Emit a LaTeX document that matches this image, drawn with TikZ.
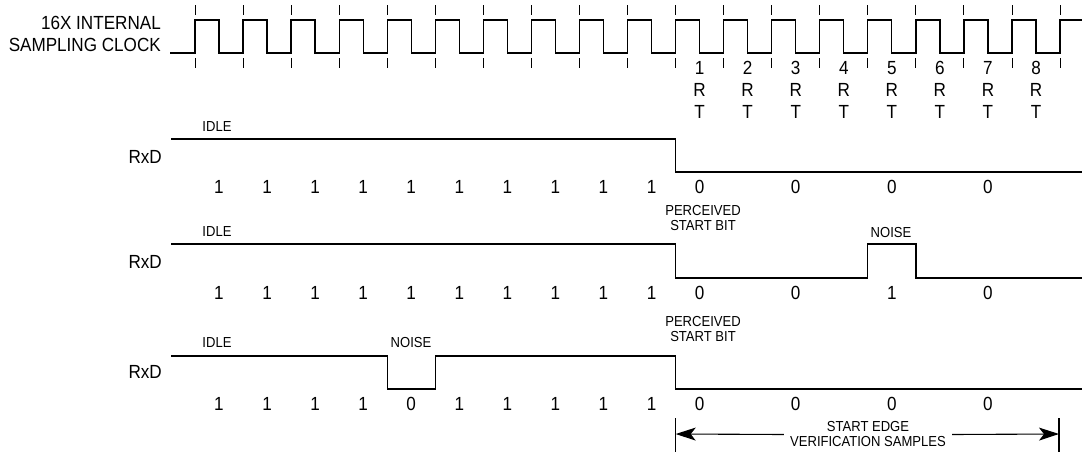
\documentclass[tikz,border=0pt]{standalone}
\usepackage{fontspec}
\setmainfont[FakeStretch=0.9]{Liberation Sans}
\usetikzlibrary{arrows.meta}
\tikzset{
  big/.style={font=\fontsize{19}{22}\selectfont, inner sep=0pt},
  small/.style={font=\fontsize{14.5}{15}\selectfont, inner sep=0pt, align=center},
  wave/.style={line width=1.3pt, line join=miter},
  clocktick/.style={line width=1pt},
  dimline/.style={line width=1.1pt},
  dimarrow/.style={line width=1.1pt, -{Stealth[length=20pt,width=13pt,inset=5pt]}},
}
\begin{document}
\begin{tikzpicture}[x=1pt,y=-1pt]
\useasboundingbox (0,0) rectangle (1082,455);
% clock label
\node[big, anchor=east] (clkA) at (161,23) {16X INTERNAL};
\node[big, anchor=east] (clkB) at (161,45) {SAMPLING CLOCK};
% clock waveform
\draw[wave] (170,53) foreach \k in {0,...,17} {
  -- ({195+48.06*\k},53) -- ({195+48.06*\k},20) -- ({219+48.06*\k},20) -- ({219+48.06*\k},53) }
  -- (1060,53) -- (1060,20) -- (1082,20);
% clock ticks
\foreach \k in {0,...,18} {
  \draw[clocktick] ({195+48.06*\k},5) -- ++(0,10);
  \draw[clocktick] ({195+48.06*\k},58) -- ++(0,10);
}
% RT labels
\foreach \i in {1,...,8} {
  \node[big, align=center] (rt\i) at ({219+48.06*(9+\i)},90) {\i\\R\\T};
}
% ---- row 1 ----
\node[big, anchor=east] (rxdA) at (162,157) {RxD};
\node[small] (idleA) at (217,127) {IDLE};
\draw[wave] (171,139) -- (675.7,139) -- (675.7,172) -- (1082,172);
\foreach \k in {0,...,9} { \node[big] (bA\k) at ({219+48.06*\k},187) {1}; }
\foreach \k in {10,12,14,16} { \node[big] (bA\k) at ({219+48.06*\k},187) {0}; }
% ---- row 2 ----
\node[big, anchor=east] (rxdB) at (162,262) {RxD};
\node[small] (idleB) at (217,232) {IDLE};
\node[small] (percB) at (703,218.5) {PERCEIVED\\START BIT};
\node[small] (noiseB) at (891,233) {NOISE};
\draw[wave] (171,244) -- (675.7,244) -- (675.7,278) -- (867.8,278) -- (867.8,244)
  -- (915.9,244) -- (915.9,278) -- (1082,278);
\foreach \k in {0,...,9} { \node[big] (bB\k) at ({219+48.06*\k},293) {1}; }
\foreach \k/\v in {10/0,12/0,14/1,16/0} { \node[big] (bB\k) at ({219+48.06*\k},293) {\v}; }
% ---- row 3 ----
\node[big, anchor=east] (rxdC) at (162,372) {RxD};
\node[small] (idleC) at (217,343) {IDLE};
\node[small] (percC) at (703,329.5) {PERCEIVED\\START BIT};
\node[small] (noiseC) at (411,343) {NOISE};
\draw[wave] (171,356) -- (387.2,356) -- (387.2,389) -- (435.3,389) -- (435.3,356)
  -- (675.7,356) -- (675.7,389) -- (1082,389);
\foreach \k/\v in {0/1,1/1,2/1,3/1,4/0,5/1,6/1,7/1,8/1,9/1,10/0,12/0,14/0,16/0} {
  \node[big] (bC\k) at ({219+48.06*\k},404) {\v}; }
% ---- verification arrow ----
\coordinate (vL) at (675.7,434);
\coordinate (vR) at (1059,434);
\draw[dimline] (675.7,418) -- (675.7,452);
\draw[dimline] (1059,418) -- (1059,452);
\node[small, inner xsep=6pt] (verif) at (868,434.5) {START EDGE\\VERIFICATION SAMPLES};
\draw[dimarrow] (verif.west) -- (vL);
\draw[dimarrow] (verif.east) -- (vR);
\end{tikzpicture}
\end{document}
